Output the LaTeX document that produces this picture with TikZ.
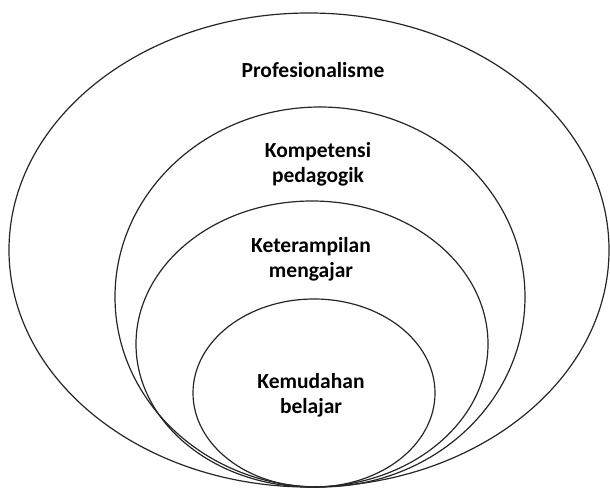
\documentclass[tikz,border=0pt]{standalone}
\usepackage{fontspec}
\setmainfont{Carlito}
\usetikzlibrary{shapes.geometric}
\begin{document}
\begin{tikzpicture}[x=1pt,y=1pt,
  ring/.style={draw=black!85, line width=1.2pt, ellipse, inner sep=0pt},
  label/.style={font=\fontsize{21.5}{25}\selectfont\bfseries, align=center, anchor=base, inner sep=0pt}]
\useasboundingbox (0,0) rectangle (610,488);
% nested ellipses, all touching at the bottom
\node[ring, minimum width=600, minimum height=474] (prof) at (309,238) {};
\node[ring, minimum width=410, minimum height=380] (ped) at (320,191) {};
\node[ring, minimum width=352, minimum height=286] (skill) at (312,144) {};
\node[ring, minimum width=242, minimum height=188] (ease) at (314,95) {};
% labels (anchored at the baseline of the last line)
\node[label] (tprof) at (313,410) {Profesionalisme};
\node[label] (tped) at (318,305) {Kompetensi\\pedagogik};
\node[label] (tskill) at (311,211) {Keterampilan\\mengajar};
\node[label] (tease) at (311,75) {Kemudahan\\belajar};
\end{tikzpicture}
\end{document}
